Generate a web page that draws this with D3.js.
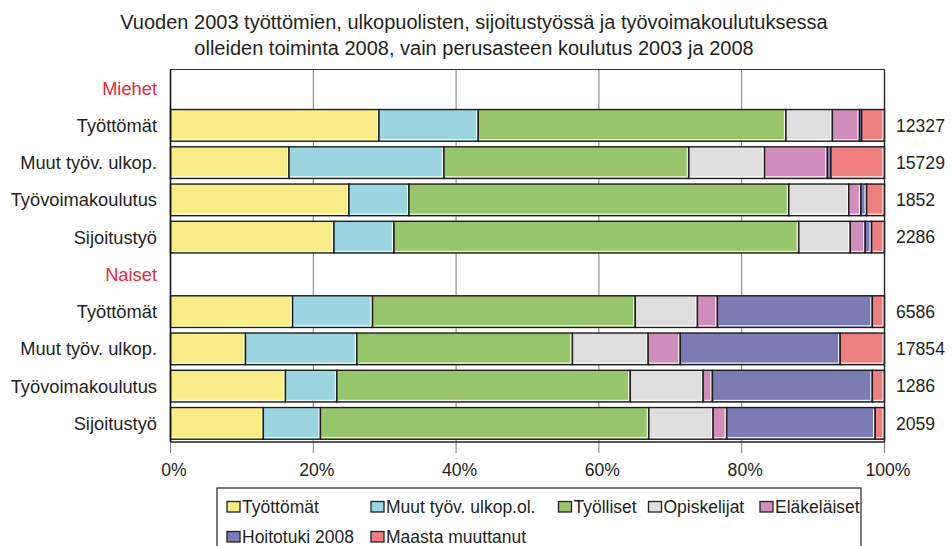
<!DOCTYPE html>
<html>
<head>
<meta charset="utf-8">
<script src="https://cdn.jsdelivr.net/npm/d3@7"></script>
<style>
  html, body { margin: 0; padding: 0; background: #fff; }
  svg { display: block; }
  text { font-family: "Liberation Sans", Arial, Helvetica, sans-serif; fill: #231f20; }
</style>
</head>
<body>
<svg id="chart" width="952" height="546"></svg>
<script>
// ---- data ----
const titleLines = [
  "Vuoden 2003 työttömien, ulkopuolisten, sijoitustyössä ja työvoimakoulutuksessa",
  "olleiden toiminta 2008, vain perusasteen koulutus 2003 ja 2008"
];
const categories = ["Miehet", "Työttömät", "Muut työv. ulkop.", "Työvoimakoulutus", "Sijoitustyö",
                    "Naiset", "Työttömät", "Muut työv. ulkop.", "Työvoimakoulutus", "Sijoitustyö"];
const isHeader = [true, false, false, false, false, true, false, false, false, false];
const totals = ["", "12327", "15729", "1852", "2286", "", "6586", "17854", "1286", "2059"];
const seriesNames = ["Työttömät", "Muut työv. ulkop.ol.", "Työlliset", "Opiskelijat",
                     "Eläkeläiset", "Hoitotuki 2008", "Maasta muuttanut"];
const tyottomat   = [0, 29.2, 16.6, 25.0, 22.9, 0, 17.1, 10.5, 16.1, 13.0];
const muutUlkop   = [0, 13.9, 21.7,  8.4,  8.4, 0, 11.2, 15.6,  7.2,  8.0];
const tyolliset   = [0, 43.1, 34.3, 53.2, 56.7, 0, 36.8, 30.2, 41.1, 46.0];
const opiskelijat = [0,  6.5, 10.6,  8.4,  7.2, 0,  8.7, 10.6, 10.2,  9.0];
const elakelaiset = [0,  3.8,  8.8,  1.7,  2.1, 0,  2.8,  4.5,  1.3,  1.9];
const hoitotuki   = [0,  0.3,  0.5,  0.8,  0.9, 0, 21.7, 22.4, 22.4, 20.8];
const maasta      = [0,  3.2,  7.5,  2.5,  1.8, 0,  1.7,  6.2,  1.7,  1.3];
const tickValues  = [0, 20, 40, 60, 80, 100];

// ---- styles ----
const colors = ["#f7ec86", "#9bd5e0", "#98c46c", "#dedede", "#d08cba", "#7b7bb5", "#ee7f81"];
const headerColor = "#e8283c";
const labelSize = 18.3;
const tickSize = 17.6;
const legendSize = 17.5;

const seriesValues = [tyottomat, muutUlkop, tyolliset, opiskelijat, elakelaiset, hoitotuki, maasta];
const keys = seriesNames.map((d, i) => "s" + i);
const table = categories.map((c, r) => {
  const row = { idx: r };
  keys.forEach((k, i) => row[k] = seriesValues[i][r]);
  return row;
});

const svg = d3.select("#chart");
const plot = { left: 170.5, right: 884.5, top: 69.5, bottom: 442 };

const x = d3.scaleLinear().domain([0, 100]).range([plot.left, plot.right]);
const y = d3.scaleBand().domain(d3.range(categories.length))
  .range([plot.top, plot.bottom]).paddingInner(0.15).paddingOuter(0.075);

// title
const title = svg.append("text").attr("text-anchor", "middle").style("font-size", "20px");
titleLines.forEach((t, i) => {
  title.append("tspan").attr("x", 474).attr("y", 28.5 + i * 26.7).text(t);
});

// gridlines (with tick extension below)
svg.append("g").selectAll("line").data(tickValues).join("line")
  .attr("x1", d => x(d)).attr("x2", d => x(d))
  .attr("y1", plot.top).attr("y2", plot.bottom + 11)
  .attr("stroke", "#7a7a7a").attr("stroke-width", 1);

// stacked bars
const stack = d3.stack().keys(keys)(table);
const layers = svg.append("g").selectAll("g").data(stack).join("g")
  .attr("fill", (d, i) => colors[i]);
layers.selectAll("rect").data(d => d.filter(p => !isHeader[p.data.idx])).join("rect")
  .attr("x", d => x(d[0]))
  .attr("y", d => y(d.data.idx))
  .attr("width", d => x(d[1]) - x(d[0]))
  .attr("height", y.bandwidth())
  .attr("stroke", "#1c1c1c").attr("stroke-width", 1.4);
// white inner highlight on right and bottom edge
layers.selectAll("path").data(d => d.filter(p => !isHeader[p.data.idx] && x(p[1]) - x(p[0]) > 4)).join("path")
  .attr("d", d => {
    const x0 = x(d[0]) + 1.2, x1 = x(d[1]) - 1.6;
    const y0 = y(d.data.idx) + 1.2, y1 = y(d.data.idx) + y.bandwidth() - 1.6;
    return `M${x1},${y0}V${y1}H${x0}`;
  })
  .attr("fill", "none").attr("stroke", "#fff").attr("stroke-width", 1);

// frame
svg.append("line").attr("x1", plot.left).attr("x2", plot.right).attr("y1", plot.top).attr("y2", plot.top)
  .attr("stroke", "#333").attr("stroke-width", 1.2);
svg.append("line").attr("x1", plot.right).attr("x2", plot.right).attr("y1", plot.top).attr("y2", plot.bottom)
  .attr("stroke", "#222").attr("stroke-width", 1.4);
svg.append("line").attr("x1", plot.left).attr("x2", plot.left).attr("y1", plot.top).attr("y2", plot.bottom)
  .attr("stroke", "#111").attr("stroke-width", 1.6);
svg.append("line").attr("x1", plot.left).attr("x2", plot.right).attr("y1", plot.bottom).attr("y2", plot.bottom)
  .attr("stroke", "#222").attr("stroke-width", 1.4);

// x axis labels
const xAxis = svg.append("g").attr("transform", `translate(0,${plot.bottom})`)
  .call(d3.axisBottom(x).tickValues(tickValues).tickFormat(d => d + "%").tickSize(0));
xAxis.select(".domain").remove();
xAxis.selectAll("text").attr("y", 21.5).attr("dx", 3).attr("dy", "0.71em")
  .style("font-size", tickSize + "px").style("font-family", "'Liberation Sans', Arial, sans-serif").attr("fill", "#231f20");

// category labels
svg.append("g").selectAll("text").data(categories).join("text")
  .attr("x", 157).attr("y", (d, i) => y(i) + y.bandwidth() / 2)
  .attr("dy", "0.35em").attr("text-anchor", "end")
  .style("font-size", labelSize + "px")
  .style("fill", (d, i) => isHeader[i] ? headerColor : "#231f20")
  .text(d => d);

// totals
svg.append("g").selectAll("text").data(totals).join("text")
  .attr("x", 896).attr("y", (d, i) => y(i) + y.bandwidth() / 2)
  .attr("dy", "0.35em").style("font-size", tickSize + "px")
  .text(d => d);

// legend
const legend = svg.append("g");
legend.append("rect").attr("x", 217).attr("y", 488).attr("width", 644).attr("height", 80)
  .attr("fill", "#fff").attr("stroke", "#333").attr("stroke-width", 1.3);
const legendPos = [[227, 507], [371, 507], [558.5, 507], [648.5, 507], [760, 507], [227, 537], [371, 537]];
const items = legend.selectAll("g.item").data(seriesNames).join("g").attr("class", "item")
  .attr("transform", (d, i) => `translate(${legendPos[i][0]},${legendPos[i][1]})`);
items.append("rect").attr("x", 0).attr("y", -5.5).attr("width", 13).attr("height", 10.5)
  .attr("fill", (d, i) => colors[i]).attr("stroke", "#222").attr("stroke-width", 1.3);
items.append("text").attr("x", 15).attr("dy", "0.35em").style("font-size", legendSize + "px").text(d => d);
</script>
</body>
</html>
